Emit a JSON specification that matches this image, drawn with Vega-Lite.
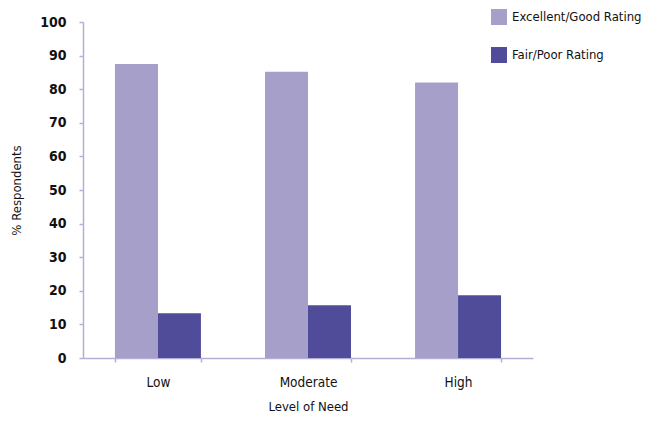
{
  "$schema": "https://vega.github.io/schema/vega-lite/v6.json",
  "width": 450,
  "height": 336,
  "autosize": "none",
  "padding": {"left": 83, "top": 22, "right": 122, "bottom": 67},
  "background": "white",
  "config": {
    "font": "'Liberation Sans Narrow', 'DejaVu Sans Condensed', sans-serif",
    "view": {"stroke": null},
    "axis": {"grid": false, "domainColor": "#B3B0D8", "tickColor": "#B3B0D8", "labelColor": "#111", "titleColor": "#111", "labelFont": "'Liberation Sans Narrow', 'DejaVu Sans Condensed', sans-serif", "titleFont": "'Liberation Sans Narrow', 'DejaVu Sans Condensed', sans-serif", "titleFontWeight": "normal", "domainWidth": 1.5, "tickWidth": 1.5},
    "legend": {"labelFont": "'Liberation Sans Narrow', 'DejaVu Sans Condensed', sans-serif"}
  },
  "data": {
    "values": [
      {"need": "Low", "rating": "Excellent/Good Rating", "value": 87.5},
      {"need": "Low", "rating": "Fair/Poor Rating", "value": 13.3},
      {"need": "Moderate", "rating": "Excellent/Good Rating", "value": 85.2},
      {"need": "Moderate", "rating": "Fair/Poor Rating", "value": 15.7},
      {"need": "High", "rating": "Excellent/Good Rating", "value": 82},
      {"need": "High", "rating": "Fair/Poor Rating", "value": 18.7}
    ]
  },
  "mark": {"type": "bar"},
  "encoding": {
    "x": {
      "field": "need", "type": "nominal", "sort": ["Low", "Moderate", "High"],
      "scale": {"paddingInner": 0.427, "paddingOuter": 0.213},
      "axis": {"title": "Level of Need", "labelAngle": 0, "labelFontSize": 13.5, "titleFontSize": 13, "labelPadding": 13, "titlePadding": 12, "tickBand": "extent", "tickSize": 4}
    },
    "xOffset": {"field": "rating", "type": "nominal", "sort": ["Excellent/Good Rating", "Fair/Poor Rating"]},
    "y": {
      "field": "value", "type": "quantitative",
      "scale": {"domain": [0, 100]},
      "axis": {"title": "% Respondents", "values": [0,10,20,30,40,50,60,70,80,90,100], "labelFontSize": 14, "labelFontWeight": "bold", "titleFontSize": 13, "tickSize": 4, "labelPadding": 13, "titlePadding": 16}
    },
    "color": {
      "field": "rating", "type": "nominal",
      "scale": {"domain": ["Excellent/Good Rating", "Fair/Poor Rating"], "range": ["#A59FC9", "#504C9A"]},
      "legend": {"title": null, "orient": "none", "legendX": 408, "legendY": -13, "symbolType": "square", "symbolSize": 256, "symbolStrokeWidth": 0, "labelFontSize": 13, "labelColor": "#111", "rowPadding": 22, "labelOffset": 5}
    }
  }
}
